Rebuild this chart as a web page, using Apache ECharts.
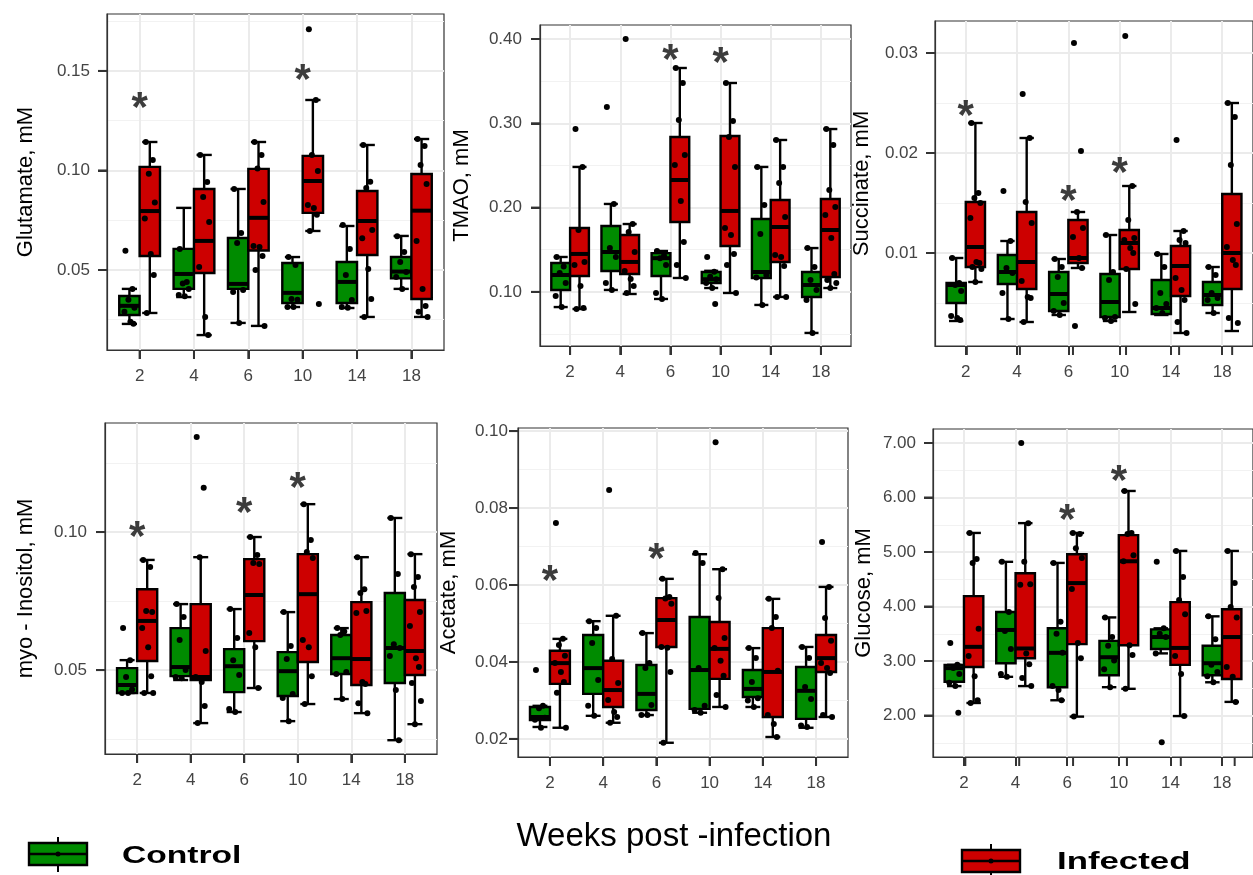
<!DOCTYPE html>
<html>
<head>
<meta charset="utf-8">
<title>Metabolites by week post-infection</title>
<script src="https://cdn.jsdelivr.net/npm/echarts@6/dist/echarts.min.js"></script>
<style>
html, body { margin: 0; padding: 0; background: #fff; }
#container { width: 1253px; height: 875px; }
</style>
</head>
<body>
<div id="container"></div>
<script>
var weeks = ['2', '4', '6', '10', '14', '18'];

// box stats per week: [min, q1, median, q3, max]
var glutamateControlBox = [[0.0229, 0.0274, 0.0320, 0.0369, 0.0405], [0.0364, 0.0405, 0.0480, 0.0606, 0.0812], [0.0234, 0.0405, 0.0430, 0.0661, 0.0907], [0.0314, 0.0334, 0.0385, 0.0535, 0.0565], [0.0309, 0.0334, 0.0440, 0.0540, 0.0721], [0.0405, 0.0458, 0.0492, 0.0565, 0.0671]];
var glutamateInfectedBox = [[0.0284, 0.0570, 0.0796, 0.1018, 0.1143], [0.0173, 0.0485, 0.0646, 0.0907, 0.1078], [0.0219, 0.0598, 0.0762, 0.1008, 0.1143], [0.0696, 0.0787, 0.0947, 0.1073, 0.1354], [0.0264, 0.0575, 0.0746, 0.0897, 0.1128], [0.0264, 0.0354, 0.0798, 0.0982, 0.1158]];
var glutamateControlPts = [[0.0596, 0.0405, 0.035, 0.031, 0.029, 0.024, 0.023], [0.0606, 0.0440, 0.0432, 0.0405, 0.0374, 0.0368], [0.0907, 0.0686, 0.0636, 0.0400, 0.0390, 0.0234], [0.0565, 0.0525, 0.0354, 0.0350, 0.0314, 0.0314], [0.0726, 0.0605, 0.0475, 0.0349, 0.0314, 0.0310], [0.0670, 0.0590, 0.0540, 0.0490, 0.0465, 0.0405]];
var glutamateInfectedPts = [[0.1143, 0.1053, 0.0983, 0.0839, 0.0759, 0.0580, 0.0475, 0.0284], [0.1078, 0.0942, 0.0867, 0.0741, 0.0515, 0.0264, 0.0173], [0.1143, 0.1078, 0.1010, 0.0842, 0.0620, 0.0616, 0.0570, 0.0500, 0.0219], [0.1710, 0.1354, 0.1078, 0.0997, 0.0827, 0.0812, 0.0778, 0.0696, 0.0329], [0.1128, 0.0943, 0.0912, 0.0701, 0.0660, 0.0505, 0.0354, 0.0264], [0.1158, 0.1123, 0.1028, 0.0932, 0.0646, 0.0405, 0.0319, 0.0290, 0.0264]];
var glutamateStars = [[0, 0.1354], [3, 0.149]];

var tmaoControlBox = [[0.082, 0.1023, 0.120, 0.1343, 0.1414], [0.1023, 0.1248, 0.1473, 0.1782, 0.2043], [0.0916, 0.1189, 0.140, 0.146, 0.1485], [0.1046, 0.1106, 0.115, 0.1236, 0.125], [0.0845, 0.1165, 0.1236, 0.1865, 0.2482], [0.0513, 0.094, 0.1082, 0.1236, 0.152]];
var tmaoInfectedBox = [[0.0797, 0.1189, 0.145, 0.1758, 0.2482], [0.0975, 0.1212, 0.1355, 0.1675, 0.1805], [0.1165, 0.1829, 0.2327, 0.2837, 0.3656], [0.0987, 0.1544, 0.196, 0.2849, 0.3478], [0.094, 0.1355, 0.177, 0.209, 0.2802], [0.1046, 0.1177, 0.1734, 0.2102, 0.2932]];
var tmaoControlPts = [[0.1414, 0.130, 0.1224, 0.1106, 0.095, 0.082], [0.3193, 0.2043, 0.152, 0.1414, 0.1106, 0.1023], [0.1485, 0.143, 0.140, 0.132, 0.0987, 0.0916], [0.1414, 0.124, 0.118, 0.115, 0.1106, 0.1046, 0.0857], [0.2482, 0.2031, 0.1687, 0.120, 0.117, 0.0845], [0.152, 0.1295, 0.1141, 0.1023, 0.0904, 0.0513]];
var tmaoInfectedPts = [[0.2932, 0.2482, 0.1734, 0.1355, 0.132, 0.107, 0.081, 0.0797], [0.40, 0.1805, 0.171, 0.1473, 0.1248, 0.1153, 0.107, 0.0987], [0.3656, 0.3478, 0.3039, 0.2624, 0.2505, 0.2078, 0.1592, 0.132, 0.1165], [0.3478, 0.3027, 0.2837, 0.2482, 0.1758, 0.1675, 0.145, 0.132, 0.0987], [0.2802, 0.2482, 0.2292, 0.1889, 0.1438, 0.1414, 0.1307, 0.094, 0.094], [0.2932, 0.2743, 0.2209, 0.2007, 0.1912, 0.164, 0.1212, 0.1141, 0.1106, 0.1046]];
var tmaoStars = [[2, 0.3846], [3, 0.381]];

var succinateControlBox = [[0.0032, 0.0050, 0.0068, 0.0070, 0.0095], [0.0034, 0.0069, 0.0081, 0.0098, 0.0112], [0.0038, 0.0042, 0.0059, 0.0081, 0.0094], [0.0032, 0.0036, 0.0051, 0.0079, 0.0118], [0.0038, 0.0039, 0.0045, 0.0073, 0.0099], [0.0040, 0.0048, 0.0058, 0.0071, 0.0086]];
var succinateInfectedBox = [[0.0071, 0.0086, 0.0106, 0.0151, 0.0230], [0.0031, 0.0064, 0.0091, 0.0141, 0.0215], [0.0085, 0.0090, 0.0095, 0.0133, 0.0141], [0.0041, 0.0084, 0.0110, 0.0123, 0.0167], [0.0020, 0.0057, 0.0087, 0.0107, 0.0122], [0.0022, 0.0064, 0.0100, 0.0159, 0.0250]];
var succinateControlPts = [[0.0095, 0.0070, 0.0068, 0.0062, 0.0037, 0.0035, 0.0033], [0.0162, 0.0112, 0.0085, 0.0080, 0.0060, 0.0034], [0.0094, 0.0086, 0.0076, 0.0050, 0.0042, 0.0038], [0.0118, 0.0081, 0.0073, 0.0036, 0.0035, 0.0032], [0.0099, 0.0086, 0.0060, 0.0049, 0.0045, 0.0040], [0.0086, 0.0078, 0.0060, 0.0055, 0.0053, 0.0040]];
var succinateInfectedPts = [[0.0230, 0.0160, 0.0155, 0.0150, 0.0135, 0.0091, 0.0090, 0.0086, 0.0084, 0.0071], [0.0259, 0.0215, 0.0151, 0.0130, 0.0072, 0.0056, 0.0055, 0.0031], [0.0310, 0.0202, 0.0141, 0.0125, 0.0116, 0.0095, 0.0085, 0.0027], [0.0317, 0.0167, 0.0133, 0.0115, 0.0113, 0.0105, 0.0100, 0.0084, 0.0049], [0.0213, 0.0122, 0.0113, 0.0110, 0.0075, 0.0063, 0.0053, 0.0031, 0.0020], [0.0250, 0.0236, 0.0188, 0.0129, 0.0106, 0.0093, 0.0088, 0.0035, 0.0030]];
var succinateStars = [[0, 0.0245], [2, 0.016], [3, 0.0188]];

var myoControlBox = [[0.0417, 0.0417, 0.0446, 0.0507, 0.0536], [0.0464, 0.0478, 0.0511, 0.0652, 0.0739], [0.0348, 0.0420, 0.0514, 0.0576, 0.0721], [0.0315, 0.0406, 0.0496, 0.0565, 0.0710], [0.0395, 0.0486, 0.0543, 0.0627, 0.0652], [0.0246, 0.0453, 0.0580, 0.0779, 0.1051]];
var myoInfectedBox = [[0.0417, 0.0533, 0.0678, 0.0793, 0.0899], [0.0308, 0.0464, 0.0475, 0.0739, 0.0909], [0.0435, 0.0605, 0.0772, 0.0902, 0.0982], [0.0377, 0.0529, 0.0775, 0.0920, 0.1101], [0.0344, 0.0446, 0.0540, 0.0746, 0.0909], [0.0304, 0.0482, 0.0569, 0.0754, 0.0920]];
var myoControlPts = [[0.0652, 0.0536, 0.0475, 0.0430, 0.0417, 0.0417], [0.0739, 0.0692, 0.0609, 0.0500, 0.0475, 0.0470], [0.0721, 0.0616, 0.0536, 0.0482, 0.0359, 0.0348], [0.0710, 0.0587, 0.0540, 0.0413, 0.0399, 0.0315], [0.0652, 0.0640, 0.0627, 0.0493, 0.0486, 0.0395], [0.1051, 0.0848, 0.0594, 0.0580, 0.0551, 0.0428, 0.0246]];
var myoInfectedPts = [[0.0899, 0.0873, 0.0714, 0.0710, 0.0652, 0.0583, 0.0478, 0.0417, 0.0417], [0.1344, 0.1160, 0.0909, 0.0569, 0.0475, 0.0457, 0.0370, 0.0308], [0.0982, 0.0917, 0.0888, 0.0884, 0.0634, 0.0583, 0.0435], [0.1101, 0.0971, 0.0928, 0.0906, 0.0609, 0.0583, 0.0478, 0.0377], [0.0909, 0.0793, 0.0779, 0.0714, 0.0707, 0.0457, 0.0450, 0.0380, 0.0344], [0.0920, 0.0837, 0.0801, 0.0710, 0.0660, 0.0543, 0.0511, 0.0453, 0.0388, 0.0304]];
var myoStars = [[0, 0.1011], [2, 0.1098], [3, 0.1188]];

var acetateControlBox = [[0.0231, 0.0249, 0.0257, 0.0283, 0.0286], [0.0260, 0.0317, 0.0384, 0.0470, 0.0506], [0.0262, 0.0275, 0.0317, 0.0392, 0.0475], [0.0268, 0.0278, 0.0379, 0.0517, 0.0680], [0.0283, 0.0309, 0.0330, 0.0379, 0.0436], [0.0229, 0.0252, 0.0325, 0.0387, 0.0439]];
var acetateInfectedBox = [[0.0229, 0.0343, 0.0397, 0.0429, 0.0460], [0.0242, 0.0283, 0.0327, 0.0403, 0.0520], [0.0190, 0.0439, 0.0509, 0.0566, 0.0616], [0.0283, 0.0356, 0.0434, 0.0504, 0.0641], [0.0205, 0.0257, 0.0374, 0.0488, 0.0564], [0.0257, 0.0374, 0.0410, 0.0470, 0.0595]];
var acetateControlPts = [[0.0379, 0.0286, 0.0280, 0.0255, 0.0250, 0.0229], [0.0506, 0.0488, 0.0449, 0.0353, 0.0286, 0.0260], [0.0475, 0.0397, 0.0384, 0.0288, 0.0262, 0.0262], [0.0683, 0.0657, 0.0384, 0.0286, 0.0275, 0.0268], [0.0436, 0.0410, 0.0348, 0.0306, 0.0300, 0.0283], [0.0439, 0.0410, 0.0335, 0.0304, 0.0235, 0.0231]];
var acetateInfectedPts = [[0.0761, 0.0460, 0.0444, 0.0416, 0.0397, 0.0374, 0.0348, 0.0320, 0.0229], [0.0847, 0.0520, 0.0408, 0.0345, 0.0301, 0.0270, 0.0257, 0.0242], [0.0616, 0.0569, 0.0565, 0.0551, 0.0439, 0.0437, 0.0374, 0.0190], [0.0971, 0.0641, 0.0566, 0.0462, 0.0436, 0.0403, 0.0364, 0.0314, 0.0283], [0.0564, 0.0517, 0.0488, 0.0377, 0.0262, 0.0239, 0.0205], [0.0712, 0.0595, 0.0514, 0.0455, 0.0397, 0.0384, 0.0371, 0.0262, 0.0257]];
var acetateStars = [[0, 0.0631], [2, 0.0688]];

var glucoseControlBox = [[2.54, 2.62, 2.87, 2.93, 2.93], [2.71, 2.96, 3.57, 3.90, 4.82], [2.28, 2.52, 3.15, 3.60, 4.80], [2.52, 2.74, 3.07, 3.37, 3.80], [3.14, 3.22, 3.44, 3.58, 3.60], [2.61, 2.74, 2.96, 3.28, 3.82]];
var glucoseInfectedBox = [[2.23, 2.89, 3.26, 4.19, 5.35], [2.54, 3.05, 3.23, 4.61, 5.53], [1.98, 3.31, 4.43, 4.96, 5.35], [2.49, 3.29, 4.83, 5.31, 6.12], [1.99, 2.93, 3.24, 4.08, 5.02], [2.25, 2.67, 3.44, 3.95, 5.02]];
var glucoseControlPts = [[3.33, 2.93, 2.87, 2.76, 2.60, 2.54, 2.05], [4.82, 3.90, 3.55, 3.22, 2.76, 2.71], [4.80, 3.72, 3.50, 3.15, 2.54, 2.47, 2.28], [3.80, 3.44, 3.28, 3.01, 2.85, 2.52], [4.82, 3.60, 3.50, 3.44, 3.14, 1.51], [3.82, 3.40, 2.93, 2.80, 2.72, 2.61]];
var glucoseInfectedPts = [[5.35, 4.87, 4.80, 3.59, 3.09, 2.72, 2.28, 2.23], [7.00, 5.53, 4.82, 4.41, 4.40, 3.14, 2.94, 2.69, 2.54], [5.35, 5.33, 5.07, 4.89, 4.32, 3.33, 3.05, 1.98], [6.12, 5.35, 5.33, 4.94, 4.83, 3.29, 3.11, 2.49], [5.02, 4.54, 4.12, 3.86, 3.09, 2.76, 1.99], [5.02, 4.43, 3.99, 3.80, 2.89, 2.71, 2.25]];
var glucoseStars = [[2, 5.72], [3, 6.45]];

// y tick labels (major) and minor grid values
var glutamateTicks = [0.05, 0.10, 0.15], glutamateMinor = [0.025, 0.075, 0.125, 0.175];
var tmaoTicks = [0.10, 0.20, 0.30, 0.40], tmaoMinor = [0.05, 0.15, 0.25, 0.35];
var succinateTicks = [0.01, 0.02, 0.03], succinateMinor = [0.005, 0.015, 0.025];
var myoTicks = [0.05, 0.10], myoMinor = [0.025, 0.075, 0.125];
var acetateTicks = [0.02, 0.04, 0.06, 0.08, 0.10], acetateMinor = [0.03, 0.05, 0.07, 0.09];
var glucoseTicks = [2, 3, 4, 5, 6, 7], glucoseMinor = [1.5, 2.5, 3.5, 4.5, 5.5, 6.5];

var GREEN = '#008b00';
var RED = '#cd0000';
var GROUP_OFFSET = [-0.1875, 0.1875];
var BOX_HALF = 0.1875;
var CAP_HALF = 0.14;
var TICK_LEN = 9;
var X_MIN = -0.6, X_MAX = 5.6;
var JITTER = [-4, 3, -1, 5, -5, 1, 4, -3, 6, 0];
var TICK_FONT = 'Liberation Sans, Arial, sans-serif';
var TITLE_FONT = 'Liberation Sans Narrow, Liberation Sans, sans-serif';

var panels = [
	{ name: 'Glutamate, mM', box: [glutamateControlBox, glutamateInfectedBox], pts: [glutamateControlPts, glutamateInfectedPts], stars: glutamateStars, ticks: glutamateTicks, minor: glutamateMinor, min: 0.0098, max: 0.1786, left: 107, top: 14, width: 337, height: 336, nameGap: 70, labelMargin: 17 },
	{ name: 'TMAO, mM', box: [tmaoControlBox, tmaoInfectedBox], pts: [tmaoControlPts, tmaoInfectedPts], stars: tmaoStars, ticks: tmaoTicks, minor: tmaoMinor, min: 0.0358, max: 0.4166, left: 540, top: 25, width: 311, height: 321, nameGap: 67, labelMargin: 18 },
	{ name: 'Succinate, mM', box: [succinateControlBox, succinateInfectedBox], pts: [succinateControlPts, succinateInfectedPts], stars: succinateStars, ticks: succinateTicks, minor: succinateMinor, min: 0.0007, max: 0.0332, left: 935, top: 21, width: 329, height: 325, nameGap: 62, labelMargin: 17 },
	{ name: 'myo - Inositol, mM', box: [myoControlBox, myoInfectedBox], pts: [myoControlPts, myoInfectedPts], stars: myoStars, ticks: myoTicks, minor: myoMinor, min: 0.0196, max: 0.1395, left: 105, top: 423, width: 332, height: 331, nameGap: 68, labelMargin: 18 },
	{ name: 'Acetate, mM', box: [acetateControlBox, acetateInfectedBox], pts: [acetateControlPts, acetateInfectedPts], stars: acetateStars, ticks: acetateTicks, minor: acetateMinor, min: 0.0153, max: 0.1008, left: 518, top: 428, width: 330, height: 329, nameGap: 58, labelMargin: 10 },
	{ name: 'Glucose, mM', box: [glucoseControlBox, glucoseInfectedBox], pts: [glucoseControlPts, glucoseInfectedPts], stars: glucoseStars, ticks: glucoseTicks, minor: glucoseMinor, min: 1.239, max: 7.257, left: 933, top: 429, width: 334, height: 328, nameGap: 58, labelMargin: 17 }
];

function renderBox(offset, color) {
	return function (params, api) {
		var x = api.value(0) + offset;
		var lo = api.coord([x, api.value(1)]);
		var q1 = api.coord([x, api.value(2)]);
		var md = api.coord([x, api.value(3)]);
		var q3 = api.coord([x, api.value(4)]);
		var hi = api.coord([x, api.value(5)]);
		var hw = api.size([BOX_HALF, 0])[0];
		var cw = api.size([CAP_HALF, 0])[0];
		var cx = md[0];
		var line = { stroke: '#000', lineWidth: 2.4 };
		return {
			type: 'group',
			children: [
				{ type: 'line', shape: { x1: cx, y1: hi[1], x2: cx, y2: lo[1] }, style: line },
				{ type: 'line', shape: { x1: cx - cw, y1: hi[1], x2: cx + cw, y2: hi[1] }, style: line },
				{ type: 'line', shape: { x1: cx - cw, y1: lo[1], x2: cx + cw, y2: lo[1] }, style: line },
				{ type: 'rect', shape: { x: cx - hw, y: q3[1], width: hw * 2, height: q1[1] - q3[1] }, style: { fill: color, stroke: '#000', lineWidth: 2.4 } },
				{ type: 'line', shape: { x1: cx - hw, y1: md[1], x2: cx + hw, y2: md[1] }, style: { stroke: '#000', lineWidth: 4 } }
			]
		};
	};
}

function renderPoint(offset) {
	return function (params, api) {
		var p = api.coord([api.value(0) + offset, api.value(1)]);
		var j = JITTER[api.value(2) % JITTER.length];
		return { type: 'circle', shape: { cx: p[0] + j, cy: p[1], r: 3 }, style: { fill: '#000' } };
	};
}

function renderStar(params, api) {
	var p = api.coord([api.value(0), api.value(1)]);
	return {
		type: 'text',
		x: p[0],
		y: p[1] + 9,
		style: { text: '*', fontSize: 42, fontWeight: 'bold', fontFamily: TICK_FONT, fill: '#3c3c3c', align: 'center', verticalAlign: 'middle' }
	};
}

var catIdx = [0, 1, 2, 3, 4, 5];
var grids = [], xAxes = [], yAxes = [], series = [];

panels.forEach(function (p, i) {
	grids.push({ left: p.left, top: p.top, width: p.width, height: p.height, show: true, borderColor: '#333', borderWidth: 1.2, backgroundColor: '#fff' });
	xAxes.push({
		gridIndex: i, type: 'value', min: X_MIN, max: X_MAX,
		axisLine: { show: true, onZero: false, lineStyle: { color: '#333', width: 1.2 } },
		axisTick: { show: true, length: TICK_LEN, customValues: catIdx, lineStyle: { color: '#333', width: 2 } },
		axisLabel: { customValues: catIdx, margin: 18, fontSize: 17, color: '#444', fontFamily: TICK_FONT, formatter: function (v) { return weeks[Math.round(v)]; } },
		splitLine: { show: true, lineStyle: { color: '#ebebeb', width: 2 } }
	});
	yAxes.push({
		gridIndex: i, type: 'value', min: p.min, max: p.max,
		name: p.name, nameLocation: 'middle', nameGap: p.nameGap,
		nameTextStyle: { fontSize: 22, color: '#000', fontFamily: TITLE_FONT },
		axisLine: { show: true, onZero: false, lineStyle: { color: '#333', width: 1.2 } },
		axisTick: { show: true, length: TICK_LEN, customValues: p.ticks, lineStyle: { color: '#333', width: 2 } },
		axisLabel: { customValues: p.ticks, margin: p.labelMargin, fontSize: 17, color: '#444', fontFamily: TICK_FONT, formatter: function (v) { return v.toFixed(2); } },
		splitLine: { show: true, lineStyle: { color: '#ebebeb', width: 2 } }
	});
	// second axis only for the minor grid lines
	yAxes.push({
		gridIndex: i, type: 'value', min: p.min, max: p.max, position: 'left',
		axisLine: { show: false, onZero: false },
		axisTick: { show: false, customValues: p.minor },
		axisLabel: { show: false, customValues: p.minor },
		splitLine: { show: true, lineStyle: { color: '#f2f2f2', width: 1 } }
	});

	[GREEN, RED].forEach(function (color, g) {
		series.push({
			type: 'custom', xAxisIndex: i, yAxisIndex: i * 2, silent: true, z: 2,
			renderItem: renderBox(GROUP_OFFSET[g], color),
			encode: { x: 0, y: [1, 2, 3, 4, 5] },
			data: p.box[g].map(function (b, k) { return [k].concat(b); })
		});
	});
	[0, 1].forEach(function (g) {
		var data = [];
		p.pts[g].forEach(function (vals, k) {
			vals.forEach(function (v, n) { data.push([k, v, n]); });
		});
		series.push({
			type: 'custom', xAxisIndex: i, yAxisIndex: i * 2, silent: true, z: 3,
			renderItem: renderPoint(GROUP_OFFSET[g]),
			encode: { x: 0, y: 1 },
			data: data
		});
	});
	series.push({
		type: 'custom', xAxisIndex: i, yAxisIndex: i * 2, silent: true, z: 4,
		renderItem: renderStar,
		encode: { x: 0, y: 1 },
		data: p.stars
	});
});

function legendIcon(x, y, color) {
	// y is the top of the box, box 58 x 22
	return [
		{ type: 'line', shape: { x1: x + 29, y1: y - 6, x2: x + 29, y2: y + 29 }, style: { stroke: '#000', lineWidth: 2 } },
		{ type: 'rect', shape: { x: x, y: y, width: 58, height: 22 }, style: { fill: color, stroke: '#000', lineWidth: 2.4 } },
		{ type: 'line', shape: { x1: x, y1: y + 11, x2: x + 58, y2: y + 11 }, style: { stroke: '#000', lineWidth: 2.4 } },
		{ type: 'circle', shape: { cx: x + 29, cy: y + 11, r: 2.5 }, style: { fill: '#000' } }
	];
}

// outward tick marks along the bottom and left edge of each panel
var tickMarks = [];
panels.forEach(function (p) {
	var bottom = p.top + p.height;
	catIdx.forEach(function (k) {
		var x = p.left + (k - X_MIN) / (X_MAX - X_MIN) * p.width;
		tickMarks.push({ type: 'line', shape: { x1: x, y1: bottom, x2: x, y2: bottom + TICK_LEN }, style: { stroke: '#333', lineWidth: 2 } });
	});
	p.ticks.forEach(function (v) {
		var y = p.top + (p.max - v) / (p.max - p.min) * p.height;
		tickMarks.push({ type: 'line', shape: { x1: p.left - TICK_LEN, y1: y, x2: p.left, y2: y }, style: { stroke: '#333', lineWidth: 2 } });
	});
});

var graphic = [].concat(
	legendIcon(29, 843, GREEN),
	legendIcon(962, 850, RED),
	[
		{ type: 'text', x: 122, y: 856, scaleX: 1.4, style: { text: 'Control', fontSize: 24, fontWeight: 'bold', fontFamily: TICK_FONT, fill: '#000', verticalAlign: 'middle' } },
		{ type: 'text', x: 1057, y: 862, scaleX: 1.45, style: { text: 'Infected', fontSize: 24, fontWeight: 'bold', fontFamily: TICK_FONT, fill: '#000', verticalAlign: 'middle' } },
		{ type: 'text', x: 674, y: 837, style: { text: 'Weeks post -infection', fontSize: 33, fontFamily: TITLE_FONT, fill: '#000', align: 'center', verticalAlign: 'middle' } }
	],
	tickMarks
);

var myChart = echarts.init(document.getElementById('container'));
myChart.setOption({
	backgroundColor: '#fff',
	animation: false,
	grid: grids,
	xAxis: xAxes,
	yAxis: yAxes,
	series: series,
	graphic: graphic
});
</script>
</body>
</html>
